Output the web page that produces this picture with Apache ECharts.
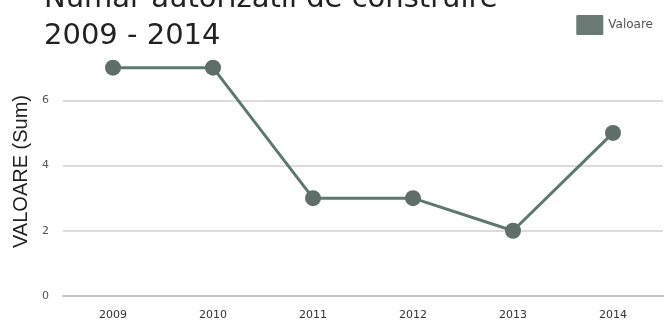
<!DOCTYPE html>
<html><head><meta charset="utf-8">
<script src="https://cdn.jsdelivr.net/npm/echarts@6/dist/echarts.min.js"></script>
<style>html,body{margin:0;padding:0;background:#fff}#c{width:666px;height:324px}</style>
</head><body><div id="c"></div>
<script>
var titleText = 'Numar autorizatii de construire\n2009 - 2014';
var categories = ['2009','2010','2011','2012','2013','2014'];
var valoare = [7, 7, 3, 3, 2, 5];
var yTicks = [0, 2, 4, 6];
var seriesName = 'Valoare';
var yName = 'VALOARE (Sum)';

var chart = echarts.init(document.getElementById('c'), null, {renderer:'canvas'});
chart.setOption({
  animation: false,
  backgroundColor: '#fff',
  title: {
    text: titleText, left: 39, top: -24,
    textStyle: {fontFamily: 'DejaVu Sans', fontSize: 29, fontWeight: 'normal', color: '#222', lineHeight: 37}
  },
  legend: {
    data: [seriesName], right: 8, top: 10, itemWidth: 27, itemHeight: 20, itemGap: 4,
    icon: 'path://M1,0 L26,0 Q27,0 27,1 L27,19 Q27,20 26,20 L1,20 Q0,20 0,19 L0,1 Q0,0 1,0 Z',
    itemStyle: {color: '#6b7a74'},
    textStyle: {fontFamily: 'DejaVu Sans', fontSize: 12, color: '#555'}
  },
  grid: {left: 63, right: 3, top: 35, bottom: 28},
  xAxis: {
    type: 'category', data: categories, boundaryGap: true,
    axisLine: {lineStyle: {color: '#c4c4c4', width: 2}},
    axisTick: {show: false},
    axisLabel: {fontFamily: 'DejaVu Sans', fontSize: 11, color: '#333', margin: 14}
  },
  yAxis: {
    type: 'value', min: 0, max: 8, interval: 2,
    name: yName, nameLocation: 'middle', nameGap: 32, nameRotate: 90,
    nameTextStyle: {fontFamily: 'Liberation Sans', fontSize: 20, color: '#222', padding: [0,0,0,-12]},
    axisLine: {show: false}, axisTick: {show: false},
    axisLabel: {fontFamily: 'DejaVu Sans', fontSize: 11, color: '#555', margin: 14,
      formatter: function(v){ return yTicks.indexOf(v) >= 0 ? String(v) : ''; }},
    splitLine: {lineStyle: {color: ['#dcdcdc','#dcdcdc','#dcdcdc','#dcdcdc','rgba(0,0,0,0)'], width: 2}}
  },
  series: [{
    name: seriesName, type: 'line', data: valoare,
    symbol: 'circle', symbolSize: 16,
    lineStyle: {color: '#5e7870', width: 3},
    itemStyle: {color: '#5f6e69'}
  }]
});
</script></body></html>
